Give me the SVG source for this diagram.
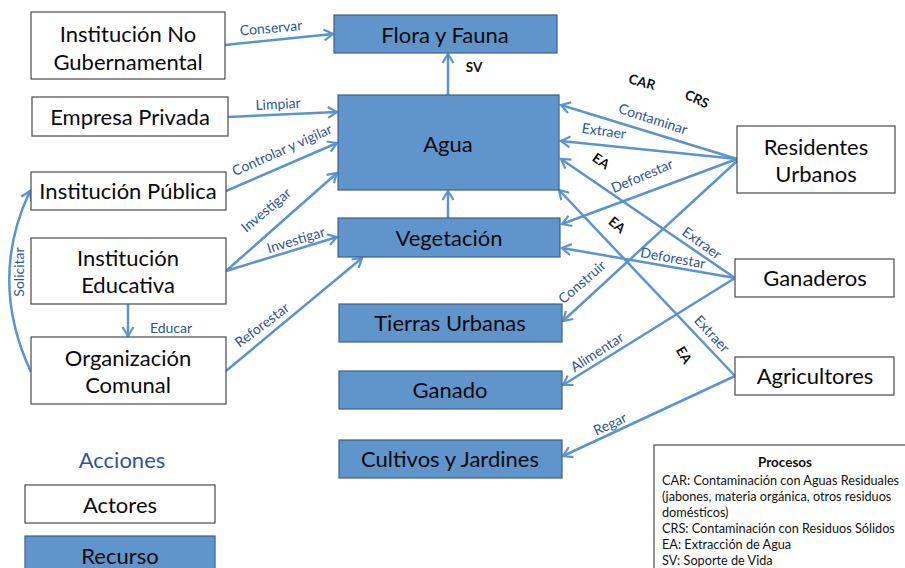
<svg xmlns="http://www.w3.org/2000/svg" width="905" height="568" viewBox="0 0 905 568">
<style>
.actor{fill:#ffffff;stroke:#4a4a4a;stroke-width:1.2}
.res{fill:#6095cb;stroke:#3d5f88;stroke-width:1.2}
.t{font-family:Lato,"Liberation Sans",sans-serif;font-size:22px;fill:#0a0a0a;text-anchor:middle}
.lbl{font-family:Lato,"Liberation Sans",sans-serif;font-size:14px;fill:#2e5597;text-anchor:middle}
.code{font-family:Lato,"Liberation Sans",sans-serif;font-size:13.5px;font-weight:bold;fill:#111;text-anchor:middle}
.proc{font-family:Lato,"Liberation Sans",sans-serif;font-size:12.7px;fill:#111}
.edge{fill:none;stroke:#5b93d0;stroke-width:2.5}
</style>
<defs>
<marker id="arr" markerUnits="userSpaceOnUse" markerWidth="14" markerHeight="14" refX="11" refY="7" orient="auto">
<path d="M2,1.5 L11,7 L2,12.5" fill="none" stroke="#5b93d0" stroke-width="2.2" stroke-linejoin="miter"/>
</marker>
</defs>

<g id="connectors">
<path class="edge" marker-end="url(#arr)" d="M225,45 L333,34"/>
<path class="edge" marker-end="url(#arr)" d="M228,117 L337,112"/>
<path class="edge" marker-end="url(#arr)" d="M226,191 L337,143"/>
<path class="edge" marker-end="url(#arr)" d="M226,271 L337,173"/>
<path class="edge" marker-end="url(#arr)" d="M226,271 L337,237"/>
<path class="edge" marker-end="url(#arr)" d="M128,304 L128,336"/>
<path class="edge" marker-end="url(#arr)" d="M31,372 Q -12,280 30,191"/>
<path class="edge" marker-end="url(#arr)" d="M226,371 L362,258"/>
<path class="edge" marker-end="url(#arr)" d="M448,95 L448,54"/>
<path class="edge" marker-end="url(#arr)" d="M448,218 L448,191"/>
<path class="edge" marker-end="url(#arr)" d="M737,159 L561,105"/>
<path class="edge" marker-end="url(#arr)" d="M737,159 L561,141"/>
<path class="edge" marker-end="url(#arr)" d="M737,159 L562,224"/>
<path class="edge" marker-end="url(#arr)" d="M737,161 L563,321"/>
<path class="edge" marker-end="url(#arr)" d="M735,278 L561,159"/>
<path class="edge" marker-end="url(#arr)" d="M735,278 L562,248"/>
<path class="edge" marker-end="url(#arr)" d="M735,278 L563,385"/>
<path class="edge" marker-end="url(#arr)" d="M735,376 L559,190"/>
<path class="edge" marker-end="url(#arr)" d="M735,376 L563,456"/>

<text class="lbl" transform="translate(271,28) rotate(-5)" dy="0.35em">Conservar</text>
<text class="lbl" transform="translate(278,104) rotate(-3)" dy="0.35em">Limpiar</text>
<text class="lbl" transform="translate(282,150) rotate(-24)" dy="0.35em">Controlar y vigilar</text>
<text class="lbl" transform="translate(266,210) rotate(-40)" dy="0.35em">Investigar</text>
<text class="lbl" transform="translate(296,240) rotate(-17)" dy="0.35em">Investigar</text>
<text class="lbl" transform="translate(171,328)" dy="0.35em">Educar</text>
<text class="lbl" transform="translate(262,325) rotate(-37)" dy="0.35em">Reforestar</text>
<text class="lbl" transform="translate(19,272) rotate(-90)" dy="0.35em">Solicitar</text>
<text class="lbl" transform="translate(653,119) rotate(18)" dy="0.35em">Contaminar</text>
<text class="lbl" transform="translate(604,131) rotate(8)" dy="0.35em">Extraer</text>
<text class="lbl" transform="translate(642,176) rotate(-23)" dy="0.35em">Deforestar</text>
<text class="lbl" transform="translate(702,243) rotate(36)" dy="0.35em">Extraer</text>
<text class="lbl" transform="translate(673,258) rotate(10)" dy="0.35em">Deforestar</text>
<text class="lbl" transform="translate(582,282) rotate(-41)" dy="0.35em">Construir</text>
<text class="lbl" transform="translate(712,334) rotate(47)" dy="0.35em">Extraer</text>
<text class="lbl" transform="translate(597,352) rotate(-33)" dy="0.35em">Alimentar</text>
<text class="lbl" transform="translate(610,424) rotate(-25)" dy="0.35em">Regar</text>

<text class="code" transform="translate(474,67)" dy="0.35em">SV</text>
<text class="code" transform="translate(642,82) rotate(15)" dy="0.35em">CAR</text>
<text class="code" transform="translate(697,99) rotate(25)" dy="0.35em">CRS</text>
<text class="code" transform="translate(601,161) rotate(35)" dy="0.35em">EA</text>
<text class="code" transform="translate(617,225) rotate(40)" dy="0.35em">EA</text>
<text class="code" transform="translate(684,355) rotate(60)" dy="0.35em">EA</text>
</g>

<g id="ingo"><rect class="actor" x="31" y="12" width="194" height="67"/><text class="t" x="128" y="42">Institución No</text><text class="t" x="128" y="70">Gubernamental</text></g>
<g id="empresa"><rect class="actor" x="32" y="97" width="196" height="39"/><text class="t" x="130" y="125">Empresa Privada</text></g>
<g id="publica"><rect class="actor" x="31" y="172" width="195" height="38"/><text class="t" x="128" y="199">Institución Pública</text></g>
<g id="educativa"><rect class="actor" x="31" y="238" width="195" height="66"/><text class="t" x="128" y="266">Institución</text><text class="t" x="128" y="293">Educativa</text></g>
<g id="comunal"><rect class="actor" x="31" y="337" width="195" height="67"/><text class="t" x="128" y="366">Organización</text><text class="t" x="128" y="393">Comunal</text></g>

<g id="flora"><rect class="res" x="334" y="15" width="223" height="38"/><text class="t" x="445" y="43">Flora y Fauna</text></g>
<g id="agua"><rect class="res" x="338" y="95" width="221" height="95"/><text class="t" x="448" y="152">Agua</text></g>
<g id="vegetacion"><rect class="res" x="338" y="218" width="222" height="39"/><text class="t" x="449" y="246">Vegetación</text></g>
<g id="tierras"><rect class="res" x="339" y="304" width="223" height="38"/><text class="t" x="450" y="331">Tierras Urbanas</text></g>
<g id="ganado"><rect class="res" x="339" y="371" width="223" height="38"/><text class="t" x="450" y="398">Ganado</text></g>
<g id="cultivos"><rect class="res" x="339" y="440" width="223" height="38"/><text class="t" x="450" y="467">Cultivos y Jardines</text></g>

<g id="residentes"><rect class="actor" x="737" y="126" width="158" height="67"/><text class="t" x="816" y="155">Residentes</text><text class="t" x="816" y="182">Urbanos</text></g>
<g id="ganaderos"><rect class="actor" x="735" y="259" width="159" height="38"/><text class="t" x="815" y="286">Ganaderos</text></g>
<g id="agricultores"><rect class="actor" x="735" y="357" width="159" height="38"/><text class="t" x="815" y="384">Agricultores</text></g>

<g id="legend">
<text class="t" x="122" y="468" style="fill:#2e5597">Acciones</text>
<rect class="actor" x="25" y="485" width="190" height="38"/><text class="t" x="120" y="513">Actores</text>
<rect class="res" x="25" y="536" width="190" height="40"/><text class="t" x="120" y="564">Recurso</text>
</g>

<g id="procesos">
<rect x="654" y="445" width="260" height="130" fill="#ffffff" stroke="#4a4a4a" stroke-width="1.2"/>
<text class="proc" x="785" y="467" style="font-weight:bold;font-size:13.5px;text-anchor:middle">Procesos</text>
<text class="proc" x="662" y="485">CAR: Contaminación con Aguas Residuales</text>
<text class="proc" x="662" y="501">(jabones, materia orgánica, otros residuos</text>
<text class="proc" x="662" y="517">domésticos)</text>
<text class="proc" x="662" y="533">CRS: Contaminación con Residuos Sólidos</text>
<text class="proc" x="662" y="549">EA: Extracción de Agua</text>
<text class="proc" x="662" y="565">SV: Soporte de Vida</text>
</g>
</svg>
